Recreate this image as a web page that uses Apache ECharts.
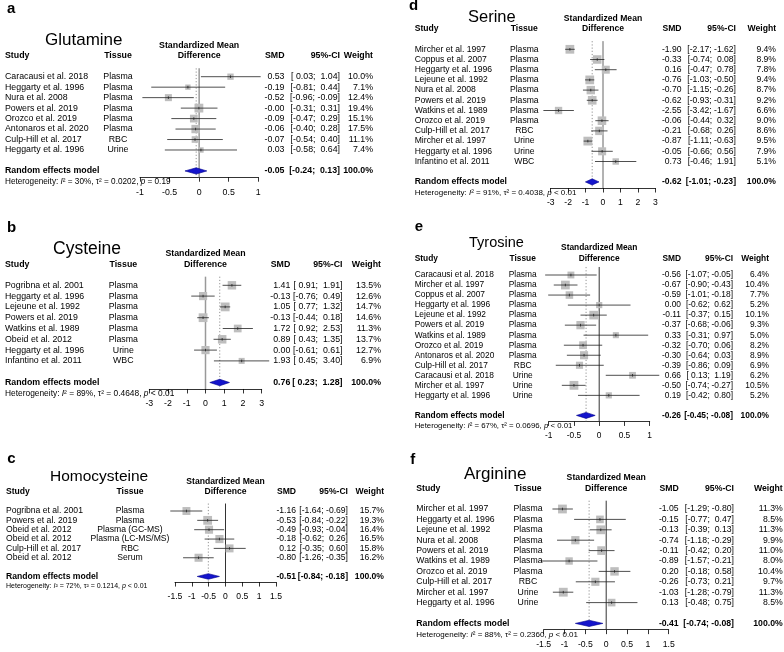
<!DOCTYPE html>
<html>
<head>
<meta charset="utf-8">
<script src="https://cdn.jsdelivr.net/npm/echarts@6/dist/echarts.min.js"></script>
<style>
html, body { margin: 0; padding: 0; background: #fff; }
#main { width: 784px; height: 652px; }
</style>
</head>
<body>
<div id="main"></div>
<script>
// ---- a: Glutamine ----
var glutStudies = ['Caracausi et al. 2018', 'Heggarty et al. 1996', 'Nura et al. 2008', 'Powers et al. 2019',
    'Orozco et al. 2019', 'Antonaros et al. 2020', 'Culp-Hill et al. 2017', 'Heggarty et al. 1996'];
var glutTissues = ['Plasma', 'Plasma', 'Plasma', 'Plasma', 'Plasma', 'Plasma', 'RBC', 'Urine'];
var glutSmd = [0.53, -0.19, -0.52, -0.004, -0.09, -0.06, -0.07, 0.03];
var glutLo = [0.03, -0.81, -0.96, -0.31, -0.47, -0.40, -0.54, -0.58];
var glutHi = [1.04, 0.44, -0.09, 0.31, 0.29, 0.28, 0.40, 0.64];
var glutWeight = [10.0, 7.1, 12.4, 19.4, 15.1, 17.5, 11.1, 7.4];
var glutPooled = [-0.05, -0.24, 0.13];
var glutHet = ['30%', '0.0202', '= 0.19'];

// ---- b: Cysteine ----
var cysStudies = ['Pogribna et al. 2001', 'Heggarty et al. 1996', 'Lejeune et al. 1992', 'Powers et al. 2019',
    'Watkins et al. 1989', 'Obeid et al. 2012', 'Heggarty et al. 1996', 'Infantino et al. 2011'];
var cysTissues = ['Plasma', 'Plasma', 'Plasma', 'Plasma', 'Plasma', 'Plasma', 'Urine', 'WBC'];
var cysSmd = [1.41, -0.13, 1.05, -0.13, 1.72, 0.89, 0.00, 1.93];
var cysLo = [0.91, -0.76, 0.77, -0.44, 0.92, 0.43, -0.61, 0.45];
var cysHi = [1.91, 0.49, 1.32, 0.18, 2.53, 1.35, 0.61, 3.40];
var cysWeight = [13.5, 12.6, 14.7, 14.6, 11.3, 13.7, 12.7, 6.9];
var cysPooled = [0.76, 0.23, 1.28];
var cysHet = ['89%', '0.4648', '< 0.01'];

// ---- c: Homocysteine ----
var hcyStudies = ['Pogribna et al. 2001', 'Powers et al. 2019', 'Obeid et al. 2012', 'Obeid et al. 2012',
    'Culp-Hill et al. 2017', 'Obeid et al. 2012'];
var hcyTissues = ['Plasma', 'Plasma', 'Plasma (GC-MS)', 'Plasma (LC-MS/MS)', 'RBC', 'Serum'];
var hcySmd = [-1.16, -0.53, -0.49, -0.18, 0.12, -0.80];
var hcyLo = [-1.64, -0.84, -0.93, -0.62, -0.35, -1.26];
var hcyHi = [-0.69, -0.22, -0.04, 0.26, 0.60, -0.35];
var hcyWeight = [15.7, 19.3, 16.4, 16.5, 15.8, 16.2];
var hcyPooled = [-0.51, -0.84, -0.18];
var hcyHet = ['72%', '0.1214', '< 0.01'];

// ---- d: Serine ----
var serStudies = ['Mircher et al. 1997', 'Coppus et al. 2007', 'Heggarty et al. 1996', 'Lejeune et al. 1992',
    'Nura et al. 2008', 'Powers et al. 2019', 'Watkins et al. 1989', 'Orozco et al. 2019',
    'Culp-Hill et al. 2017', 'Mircher et al. 1997', 'Heggarty et al. 1996', 'Infantino et al. 2011'];
var serTissues = ['Plasma', 'Plasma', 'Plasma', 'Plasma', 'Plasma', 'Plasma', 'Plasma', 'Plasma',
    'RBC', 'Urine', 'Urine', 'WBC'];
var serSmd = [-1.90, -0.33, 0.16, -0.76, -0.70, -0.62, -2.55, -0.06, -0.21, -0.87, -0.05, 0.73];
var serLo = [-2.17, -0.74, -0.47, -1.03, -1.15, -0.93, -3.42, -0.44, -0.68, -1.11, -0.66, -0.46];
var serHi = [-1.62, 0.08, 0.78, -0.50, -0.26, -0.31, -1.67, 0.32, 0.26, -0.63, 0.56, 1.91];
var serWeight = [9.4, 8.9, 7.8, 9.4, 8.7, 9.2, 6.6, 9.0, 8.6, 9.5, 7.9, 5.1];
var serPooled = [-0.62, -1.01, -0.23];
var serHet = ['91%', '0.4038', '< 0.01'];

// ---- e: Tyrosine ----
var tyrStudies = ['Caracausi et al. 2018', 'Mircher et al. 1997', 'Coppus et al. 2007', 'Heggarty et al. 1996',
    'Lejeune et al. 1992', 'Powers et al. 2019', 'Watkins et al. 1989', 'Orozco et al. 2019',
    'Antonaros et al. 2020', 'Culp-Hill et al. 2017', 'Caracausi et al. 2018', 'Mircher et al. 1997',
    'Heggarty et al. 1996'];
var tyrTissues = ['Plasma', 'Plasma', 'Plasma', 'Plasma', 'Plasma', 'Plasma', 'Plasma', 'Plasma', 'Plasma',
    'RBC', 'Urine', 'Urine', 'Urine'];
var tyrSmd = [-0.56, -0.67, -0.59, 0.00, -0.11, -0.37, 0.33, -0.32, -0.30, -0.39, 0.66, -0.50, 0.19];
var tyrLo = [-1.07, -0.90, -1.01, -0.62, -0.37, -0.68, -0.31, -0.70, -0.64, -0.86, 0.13, -0.74, -0.42];
var tyrHi = [-0.05, -0.43, -0.18, 0.62, 0.15, -0.06, 0.97, 0.06, 0.03, 0.09, 1.19, -0.27, 0.80];
var tyrWeight = [6.4, 10.4, 7.7, 5.2, 10.1, 9.3, 5.0, 8.2, 8.9, 6.9, 6.2, 10.5, 5.2];
var tyrPooled = [-0.26, -0.45, -0.08];
var tyrHet = ['67%', '0.0696', '< 0.01'];

// ---- f: Arginine ----
var argStudies = ['Mircher et al. 1997', 'Heggarty et al. 1996', 'Lejeune et al. 1992', 'Nura et al. 2008',
    'Powers et al. 2019', 'Watkins et al. 1989', 'Orozco et al. 2019', 'Culp-Hill et al. 2017',
    'Mircher et al. 1997', 'Heggarty et al. 1996'];
var argTissues = ['Plasma', 'Plasma', 'Plasma', 'Plasma', 'Plasma', 'Plasma', 'Plasma', 'RBC', 'Urine', 'Urine'];
var argSmd = [-1.05, -0.15, -0.13, -0.74, -0.11, -0.89, 0.20, -0.26, -1.03, 0.13];
var argLo = [-1.29, -0.77, -0.39, -1.18, -0.42, -1.57, -0.18, -0.73, -1.28, -0.48];
var argHi = [-0.80, 0.47, 0.13, -0.29, 0.20, -0.21, 0.58, 0.21, -0.79, 0.75];
var argWeight = [11.3, 8.5, 11.3, 9.9, 11.0, 8.0, 10.4, 9.7, 11.3, 8.5];
var argPooled = [-0.41, -0.74, -0.08];
var argHet = ['88%', '0.2360', '< 0.01'];

var FONT = '"Liberation Sans", Arial, Helvetica, sans-serif';

// where each forest sits on the page
var panels = [
    { name: 'Glutamine', studies: glutStudies, tissues: glutTissues, smd: glutSmd, lo: glutLo, hi: glutHi, w: glutWeight, pooled: glutPooled, het: glutHet,
      lay: { letter: 'a', lx: 7, ly: 9, tx: 45, ty: 40, tfs: 17, y0: 76.7, dy: 10.47, hy: 56, x0: 140, x1: 258.3, xmin: -1, xmax: 1, step: 0.5,
             fs: 8.8, hfs: 8.2, cStudy: 5, cTissue: 118, cSmd: 284.5, cCi: 340, cW: 373, refColor: '#999', refWidth: 1.5 } },
    { name: 'Cysteine', studies: cysStudies, tissues: cysTissues, smd: cysSmd, lo: cysLo, hi: cysHi, w: cysWeight, pooled: cysPooled, het: cysHet,
      lay: { letter: 'b', lx: 7, ly: 228, tx: 53, ty: 249.3, tfs: 17.5, y0: 285.3, dy: 10.8, hy: 264.3, x0: 149.3, x1: 261.7, xmin: -3, xmax: 3, step: 1,
             fs: 8.8, hfs: 8.4, cStudy: 5, cTissue: 123.3, cSmd: 290.3, cCi: 342.5, cW: 381, refColor: '#999', refWidth: 1.5 } },
    { name: 'Homocysteine', studies: hcyStudies, tissues: hcyTissues, smd: hcySmd, lo: hcyLo, hi: hcyHi, w: hcyWeight, pooled: hcyPooled, het: hcyHet,
      lay: { letter: 'c', lx: 7.3, ly: 458.5, tx: 50, ty: 476.3, tfs: 15.5, y0: 511, dy: 9.35, hy: 491.7, x0: 175, x1: 276, xmin: -1.5, xmax: 1.5, step: 0.5,
             fs: 8.6, hfs: 7.0, cStudy: 6, cTissue: 130, cSmd: 296, cCi: 348, cW: 384, refColor: '#333', refWidth: 1 } },
    { name: 'Serine', studies: serStudies, tissues: serTissues, smd: serSmd, lo: serLo, hi: serHi, w: serWeight, pooled: serPooled, het: serHet,
      lay: { letter: 'd', lx: 409, ly: 5.5, tx: 468, ty: 17.2, tfs: 16.5, y0: 49.3, dy: 10.2, hy: 29, x0: 550.7, x1: 655.3, xmin: -3, xmax: 3, step: 1,
             fs: 8.6, hfs: 8.0, cStudy: 414.7, cTissue: 524.3, cSmd: 681.5, cCi: 736, cW: 776, refColor: '#666', refWidth: 1 } },
    { name: 'Tyrosine', studies: tyrStudies, tissues: tyrTissues, smd: tyrSmd, lo: tyrLo, hi: tyrHi, w: tyrWeight, pooled: tyrPooled, het: tyrHet,
      lay: { letter: 'e', lx: 414.7, ly: 226.5, tx: 469, ty: 243.3, tfs: 14.5, y0: 275, dy: 10.03, hy: 258.3, x0: 548.7, x1: 649.7, xmin: -1, xmax: 1, step: 0.5,
             fs: 8.4, hfs: 7.8, cStudy: 414.7, cTissue: 522.7, cSmd: 681, cCi: 733, cW: 769, refColor: '#333', refWidth: 1 } },
    { name: 'Arginine', studies: argStudies, tissues: argTissues, smd: argSmd, lo: argLo, hi: argHi, w: argWeight, pooled: argPooled, het: argHet,
      lay: { letter: 'f', lx: 410.3, ly: 459.5, tx: 464, ty: 474.7, tfs: 17, y0: 509, dy: 10.4, hy: 488.3, x0: 543.7, x1: 668.7, xmin: -1.5, xmax: 1.5, step: 0.5,
             fs: 8.7, hfs: 8.0, cStudy: 416.3, cTissue: 528, cSmd: 678.7, cCi: 734, cW: 782.7, refColor: '#333', refWidth: 1 } }
];

var padNum = function(v) {
    return (v < 0 ? '' : ' ') + v.toFixed(2);
};
var ciText = function(lo, hi) {
    return '[' + padNum(lo) + '; ' + padNum(hi) + ']';
};
var label = function(s, x, y, align, size, bold) {
    return {
        type: 'text', x: x, y: y, silent: true,
        style: {
            text: s, fill: '#000', align: align, verticalAlign: 'middle',
            fontSize: size, fontFamily: FONT, fontWeight: bold ? 'bold' : 'normal'
        }
    };
};

var rowRender = function(p) {
    var L = p.lay,
        wmax = Math.max.apply(null, p.w);
    return function(params, api) {
        var i = api.value(0),
            est = api.coord([api.value(1), i]),
            lo = api.coord([api.value(2), i]),
            hi = api.coord([api.value(3), i]),
            side = 8.8 * Math.sqrt(api.value(4) / wmax),
            y = est[1],
            k = params.dataIndex;
        return {
            type: 'group',
            children: [
                { type: 'rect', shape: { x: est[0] - side / 2, y: y - side / 2, width: side, height: side }, style: { fill: '#bebebe' } },
                { type: 'line', shape: { x1: lo[0], y1: y, x2: hi[0], y2: y }, style: { stroke: '#222', lineWidth: 0.8 } },
                { type: 'line', shape: { x1: est[0], y1: y - 1.3, x2: est[0], y2: y + 1.3 }, style: { stroke: '#222', lineWidth: 0.8 } },
                label(p.studies[k], L.cStudy, y, 'left', L.fs),
                label(p.tissues[k], L.cTissue, y, 'center', L.fs),
                label(api.value(1).toFixed(2), L.cSmd, y, 'right', L.fs),
                label(ciText(api.value(2), api.value(3)), L.cCi, y, 'right', L.fs),
                label(api.value(4).toFixed(1) + '%', L.cW, y, 'right', L.fs)
            ]
        };
    };
};

var summaryRender = function(p) {
    var L = p.lay,
        n = p.smd.length;
    return function(params, api) {
        var r = api.value(0),
            c = api.coord([api.value(1), r]),
            lo = api.coord([api.value(2), r]),
            hi = api.coord([api.value(3), r]),
            top0 = api.coord([0, -0.8]),
            bot0 = api.coord([0, n + 1.6]),
            topE = api.coord([api.value(1), -0.8]),
            botE = api.coord([api.value(1), n + 1.6]),
            y = c[1],
            h = L.dy * 0.3;
        var het = {
            type: 'text', x: L.cStudy, y: y + L.dy * 1.05, silent: true,
            style: {
                text: 'Heterogeneity: {i|I}\u00b2 = ' + p.het[0] + ', \u03c4\u00b2 = ' + p.het[1] + ', {i|p} ' + p.het[2],
                fill: '#000', align: 'left', verticalAlign: 'middle', fontSize: L.hfs, fontFamily: FONT,
                rich: { i: { fontStyle: 'italic', fontSize: L.hfs, fontFamily: FONT, fill: '#000' } }
            }
        };
        return {
            type: 'group',
            children: [
                { type: 'line', shape: { x1: top0[0], y1: top0[1], x2: bot0[0], y2: bot0[1] }, style: { stroke: L.refColor, lineWidth: L.refWidth } },
                { type: 'line', shape: { x1: topE[0], y1: topE[1], x2: botE[0], y2: botE[1] }, style: { stroke: '#777', lineWidth: 0.8, lineDash: [1.2, 2] } },
                { type: 'polygon', shape: { points: [[lo[0], y], [c[0], y - h], [hi[0], y], [c[0], y + h]] },
                  style: { fill: '#1414cc', stroke: '#00008b', lineWidth: 0.6 } },
                label('Random effects model', L.cStudy, y, 'left', L.fs, true),
                label(api.value(1).toFixed(2), L.cSmd, y, 'right', L.fs, true),
                label(ciText(api.value(2), api.value(3)), L.cCi, y, 'right', L.fs, true),
                label('100.0%', L.cW, y, 'right', L.fs, true),
                het
            ]
        };
    };
};

var grids = [], xAxes = [], yAxes = [], series = [], texts = [];
panels.forEach(function(p, k) {
    var L = p.lay,
        n = p.smd.length,
        mid = (L.x0 + L.x1) / 2;
    grids.push({
        left: L.x0, width: L.x1 - L.x0,
        top: L.y0 - 0.8 * L.dy, height: (n + 2.4) * L.dy,
        containLabel: false, outerBoundsMode: 'none'
    });
    xAxes.push({
        gridIndex: k, type: 'value', min: L.xmin, max: L.xmax, interval: L.step,
        axisLine: { show: true, onZero: false, lineStyle: { color: '#000', width: 0.8 } },
        axisTick: { show: true, length: 4.5, lineStyle: { color: '#000', width: 0.8 } },
        axisLabel: { show: true, color: '#000', fontSize: L.fs, fontFamily: FONT, margin: 10.5, showMinLabel: true, showMaxLabel: true },
        splitLine: { show: false }
    });
    yAxes.push({ gridIndex: k, type: 'value', min: -0.8, max: n + 1.6, inverse: true, show: false });
    series.push({
        type: 'custom', xAxisIndex: k, yAxisIndex: k, silent: true, clip: false,
        encode: { x: 1, y: 0 },
        data: [[n + 1, p.pooled[0], p.pooled[1], p.pooled[2]]],
        renderItem: summaryRender(p)
    });
    series.push({
        type: 'custom', xAxisIndex: k, yAxisIndex: k, silent: true, clip: false,
        encode: { x: 1, y: 0 },
        data: p.smd.map(function(v, i) { return [i, v, p.lo[i], p.hi[i], p.w[i]]; }),
        renderItem: rowRender(p)
    });
    // panel letter, title and column headers
    texts.push(label(L.letter, L.lx, L.ly, 'left', 15, true));
    texts.push(label(p.name, L.tx, L.ty, 'left', L.tfs));
    texts.push(label('Study', L.cStudy, L.hy, 'left', L.fs, true));
    texts.push(label('Tissue', L.cTissue, L.hy, 'center', L.fs, true));
    texts.push(label('Standardized Mean', mid, L.hy - 10.3, 'center', L.fs, true));
    texts.push(label('Difference', mid, L.hy, 'center', L.fs, true));
    texts.push(label('SMD', L.cSmd, L.hy, 'right', L.fs, true));
    texts.push(label('95%-CI', L.cCi, L.hy, 'right', L.fs, true));
    texts.push(label('Weight', L.cW, L.hy, 'right', L.fs, true));
});

var option = {
    animation: false,
    backgroundColor: '#fff',
    textStyle: { fontFamily: FONT },
    grid: grids,
    xAxis: xAxes,
    yAxis: yAxes,
    series: series,
    graphic: { elements: texts }
};
var myChart = echarts.init(document.getElementById('main'), null, { renderer: 'canvas' });
myChart.setOption(option);
</script>
</body>
</html>
